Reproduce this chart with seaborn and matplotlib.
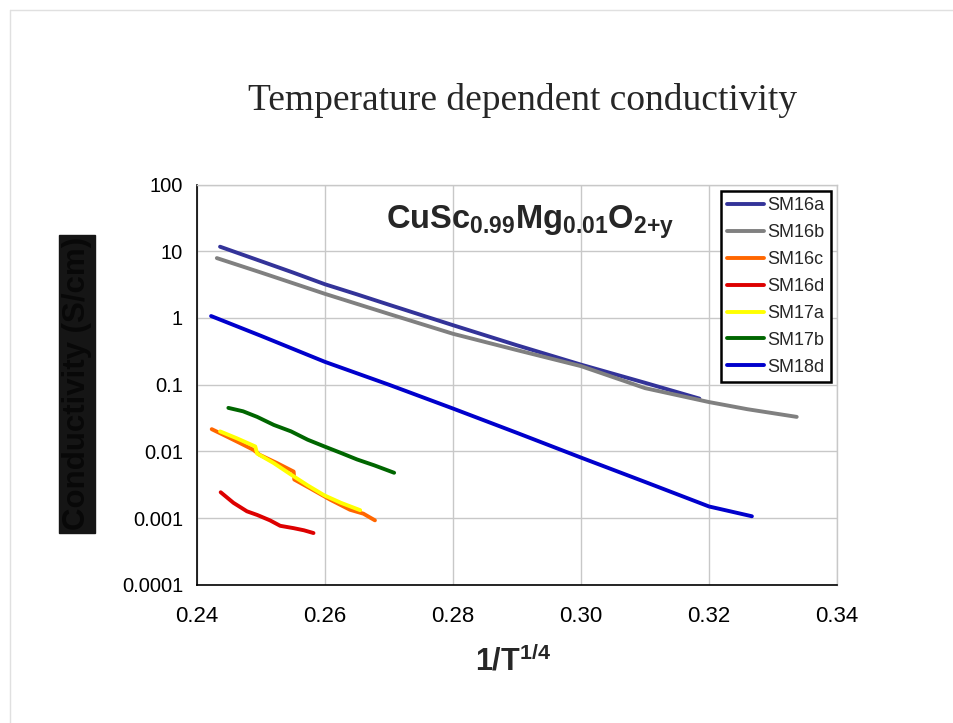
import numpy as np
import pandas as pd
import seaborn as sns
import matplotlib.pyplot as plt
from matplotlib.ticker import FixedLocator, FixedFormatter, MultipleLocator, LogLocator, NullFormatter
from matplotlib.lines import Line2D

sns.set_style("white")
plt.rcParams['font.family'] = ['Liberation Sans', 'DejaVu Sans']
plt.rcParams['mathtext.fontset'] = 'custom'
plt.rcParams['mathtext.rm'] = 'Liberation Sans'
plt.rcParams['mathtext.bf'] = 'Liberation Sans:bold'

# data (x = 1/T^(1/4), y = conductivity S/cm)
sm16a_x = [0.2436, 0.250, 0.255, 0.260, 0.265, 0.270, 0.280, 0.290, 0.300, 0.310, 0.3185]
sm16a_y = [11.7, 7.1, 4.8, 3.2, 2.26, 1.58, 0.78, 0.39, 0.20, 0.107, 0.062]

sm16b_x = [0.2431, 0.250, 0.260, 0.270, 0.280, 0.290, 0.300, 0.310, 0.320, 0.326, 0.3337]
sm16b_y = [7.9, 4.8, 2.3, 1.15, 0.58, 0.33, 0.19, 0.089, 0.055, 0.043, 0.033]

sm16c_x = [0.2423, 0.2441, 0.2467, 0.2488, 0.2498, 0.2525, 0.2551, 0.2552, 0.2577, 0.2608, 0.2639, 0.2660, 0.2678]
sm16c_y = [0.0216, 0.0178, 0.0134, 0.0106, 0.0089, 0.0067, 0.0050, 0.0038, 0.0028, 0.0019, 0.00134, 0.00117, 0.00093]

sm16d_x = [0.2437, 0.2457, 0.2478, 0.2494, 0.2514, 0.2530, 0.2551, 0.2567, 0.2582]
sm16d_y = [0.00245, 0.0017, 0.00127, 0.00112, 0.00093, 0.00077, 0.00071, 0.00066, 0.0006]

sm17a_x = [0.2436, 0.2462, 0.2491, 0.2494, 0.2520, 0.2547, 0.2573, 0.2599, 0.2625, 0.2655]
sm17a_y = [0.020, 0.0158, 0.0119, 0.0093, 0.0067, 0.0045, 0.0031, 0.0022, 0.0017, 0.00132]

sm17b_x = [0.2449, 0.2472, 0.2494, 0.2520, 0.2547, 0.2573, 0.2599, 0.2625, 0.2650, 0.2677, 0.2708]
sm17b_y = [0.045, 0.040, 0.033, 0.025, 0.020, 0.015, 0.0119, 0.0095, 0.0076, 0.0062, 0.0048]

sm18d_x = [0.2422, 0.250, 0.260, 0.270, 0.280, 0.290, 0.300, 0.310, 0.320, 0.3267]
sm18d_y = [1.07, 0.54, 0.22, 0.10, 0.044, 0.019, 0.0081, 0.0035, 0.0015, 0.00107]

samples = ['SM16a', 'SM16b', 'SM16c', 'SM16d', 'SM17a', 'SM17b', 'SM18d']
colors = ['#333399', '#808080', '#FF6600', '#DD0000', '#FFFF00', '#006600', '#0000CC']
xs = [sm16a_x, sm16b_x, sm16c_x, sm16d_x, sm17a_x, sm17b_x, sm18d_x]
ys = [sm16a_y, sm16b_y, sm16c_y, sm16d_y, sm17a_y, sm17b_y, sm18d_y]

yticks = [1e-4, 1e-3, 1e-2, 1e-1, 1, 10, 100]
ytick_labels = ['0.0001', '0.001', '0.01', '0.1', '1', '10', '100']
xticks = [0.24, 0.26, 0.28, 0.30, 0.32, 0.34]
xtick_labels = ['0.24', '0.26', '0.28', '0.30', '0.32', '0.34']

df = pd.concat([pd.DataFrame({'x': x, 'y': y, 'sample': s}) for s, x, y in zip(samples, xs, ys)])

fig = plt.figure(figsize=(9.54, 7.23), dpi=100)
ax = fig.add_axes([0.2065, 0.1909, 0.6709, 0.5539])

sns.lineplot(data=df, x='x', y='y', hue='sample', palette=dict(zip(samples, colors)),
             estimator=None, sort=False, linewidth=2.8, ax=ax, legend=False)

ax.set_yscale('log')
ax.set_xlim(0.24, 0.34)
ax.set_ylim(1e-4, 100)
ax.yaxis.set_major_locator(FixedLocator(yticks))
ax.yaxis.set_major_formatter(FixedFormatter(ytick_labels))
ax.yaxis.set_minor_locator(LogLocator(base=10, subs=np.arange(2, 10)))
ax.yaxis.set_minor_formatter(NullFormatter())
ax.xaxis.set_major_locator(FixedLocator(xticks))
ax.xaxis.set_major_formatter(FixedFormatter(xtick_labels))
ax.xaxis.set_minor_locator(MultipleLocator(0.004))

ax.grid(True, which='major', color='#C8C8C8', linewidth=1)
ax.tick_params(which='both', direction='in', colors='black')
ax.tick_params(axis='x', pad=15, labelsize=16)
ax.tick_params(axis='y', pad=10, labelsize=14.5)
ax.tick_params(which='major', length=6, width=1)
ax.tick_params(which='minor', length=4, width=1)
for side in ['left', 'bottom']:
    ax.spines[side].set_color('black')
    ax.spines[side].set_linewidth(1.2)
for side in ['top', 'right']:
    ax.spines[side].set_color('#C8C8C8')
    ax.spines[side].set_linewidth(1)
ax.set_xlabel('')
ax.set_ylabel('')

handles = [Line2D([0], [0], color=c, lw=2.8) for c in colors]
leg = ax.legend(handles, samples, loc='upper right', fontsize=13, frameon=True,
                fancybox=False, handlelength=2.0, handletextpad=0.2,
                labelspacing=0.55, borderaxespad=0.35, borderpad=0.35)
leg.get_frame().set_edgecolor('black')
leg.get_frame().set_linewidth(1.8)
leg.get_frame().set_alpha(1)

ax.text(0.52, 0.906, r'$\mathbf{CuSc_{0.99}Mg_{0.01}O_{2{+}y}}$', transform=ax.transAxes,
        ha='center', va='center', fontsize=23.5)

fig.text(0.548, 0.861, 'Temperature dependent conductivity', ha='center', va='center',
         fontsize=27, family=['Liberation Serif', 'DejaVu Serif'])
fig.text(0.538, 0.085, r'1/T$^{\mathbf{1/4}}$', ha='center', va='center',
         fontsize=22, fontweight='bold')
fig.text(0.081, 0.469, 'Conductivity (S/cm)', ha='center', va='center', rotation=90,
         fontsize=22.5, fontweight='bold', color='#080808',
         bbox=dict(facecolor='#151515', edgecolor='#151515', pad=2))

# faint slide border
fig.add_artist(Line2D([10 / 954, 1], [1 - 10 / 723, 1 - 10 / 723], color='#E0E0E0', lw=1))
fig.add_artist(Line2D([10 / 954, 10 / 954], [0, 1 - 10 / 723], color='#E0E0E0', lw=1))

fig.savefig('out.png', dpi=100)
